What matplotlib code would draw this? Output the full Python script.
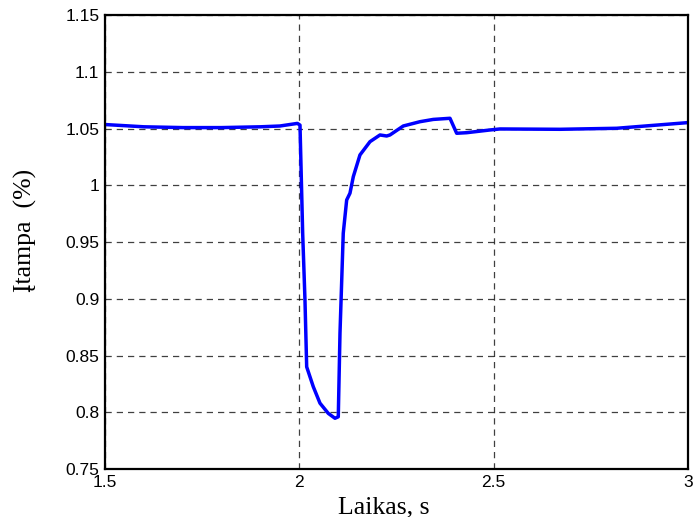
import matplotlib
matplotlib.use("Agg")
import matplotlib.pyplot as plt

# data
time_s = [1.5, 1.55, 1.6, 1.7, 1.8, 1.9, 1.95, 1.995, 2.0017, 2.0086, 2.0145, 2.0189,
          2.0359, 2.0531, 2.0745, 2.0917, 2.1002, 2.1046, 2.113, 2.1218, 2.1303,
          2.1389, 2.156, 2.1818, 2.2075, 2.2247, 2.2332, 2.2674, 2.3104, 2.3446,
          2.3876, 2.4048, 2.4305, 2.4905, 2.5162, 2.6706, 2.8164, 2.9965, 3.0]
voltage = [1.0535, 1.0525, 1.0515, 1.0508, 1.0508, 1.0515, 1.0522, 1.0545, 1.053, 0.9577,
           0.899, 0.840, 0.8225, 0.808, 0.799, 0.7947, 0.796, 0.8696, 0.9577, 0.987,
           0.993, 1.0076, 1.0267, 1.0384, 1.0443, 1.0434, 1.0443, 1.0522, 1.056,
           1.058, 1.059, 1.0458, 1.0463, 1.0487, 1.0496, 1.0493, 1.0502, 1.0551, 1.0553]

x_ticks = [1.5, 2, 2.5, 3]
x_tick_labels = ["1.5", "2", "2.5", "3"]
y_ticks = [0.75, 0.8, 0.85, 0.9, 0.95, 1.0, 1.05, 1.1, 1.15]
y_tick_labels = ["0.75", "0.8", "0.85", "0.9", "0.95", "1", "1.05", "1.1", "1.15"]

fig = plt.figure(figsize=(6.93, 5.17), dpi=100)
ax = fig.add_axes([105/693, 48/517, 583/693, 454/517])

ax.plot(time_s, voltage, color="#0000ff", linewidth=2.5, solid_joinstyle="round")

ax.set_xlim(1.5, 3)
ax.set_ylim(0.75, 1.15)
ax.set_xticks(x_ticks)
ax.set_xticklabels(x_tick_labels)
ax.set_yticks(y_ticks)
ax.set_yticklabels(y_tick_labels)

ax.grid(True, color="black", linestyle=(0, (5, 4)), linewidth=0.9, alpha=0.75)
ax.set_axisbelow(True)
ax.tick_params(direction="in", length=0, pad=4, labelsize=12.5)
for lab in ax.get_xticklabels() + ax.get_yticklabels():
    lab.set_family("Liberation Sans")
for sp in ax.spines.values():
    sp.set_linewidth(1.6)
    sp.set_color("black")

ax.set_xlabel("Laikas, s", family="Liberation Serif", fontsize=18.5)
ax.xaxis.set_label_coords((384 - 105) / 583, -0.06)
ax.xaxis.label.set_va("top")
ax.set_ylabel("Įtampa  (%)", family="Liberation Serif", fontsize=18.5)
ax.yaxis.set_label_coords(-(105 - 37) / 583, 0.525)

fig.savefig("out.png", dpi=100)
